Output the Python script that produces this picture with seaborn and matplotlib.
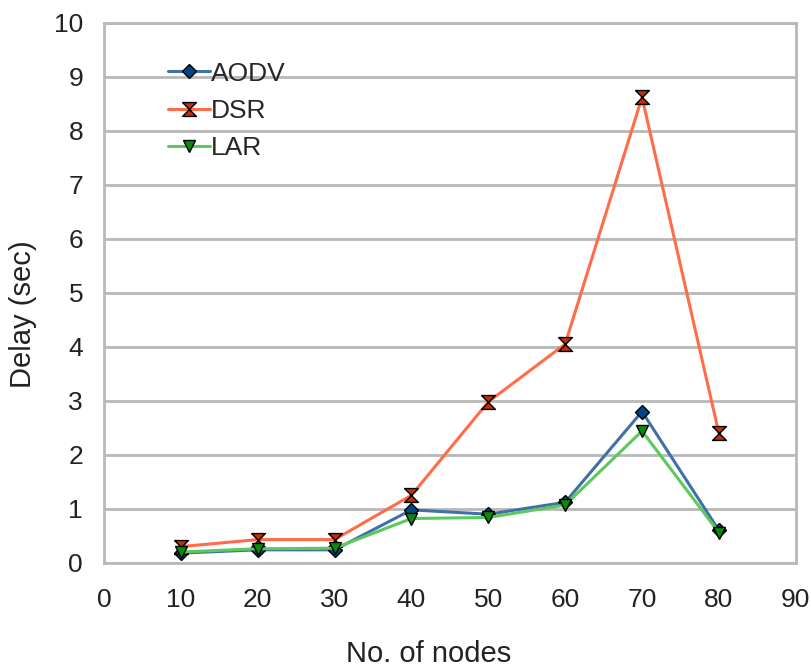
import numpy as np
import pandas as pd
import matplotlib
matplotlib.use("Agg")
import matplotlib.pyplot as plt
import seaborn as sns

# values
nodes = [10, 20, 30, 40, 50, 60, 70, 80]
aodv = [0.18, 0.24, 0.24, 0.98, 0.90, 1.12, 2.80, 0.60]
dsr = [0.30, 0.43, 0.43, 1.25, 2.98, 4.05, 8.62, 2.40]
lar = [0.20, 0.26, 0.27, 0.82, 0.84, 1.07, 2.44, 0.56]

x_ticks = list(range(0, 91, 10))
y_ticks = list(range(0, 11))

sns.set_style("white")
plt.rcParams['font.family'] = ['Liberation Sans', 'DejaVu Sans']

grid_col = '#b8b8b8'
hourglass = [(-1, 1), (1, 1), (-1, -1), (1, -1), (-1, 1)]

series = [
    ('AODV', aodv, '#3f70a8', 'D', '#004586', 7),
    ('DSR', dsr, '#ff6c48', hourglass, '#c0300a', 10),
    ('LAR', lar, '#5cc95c', 'v', '#0a8a0a', 8),
]

fig = plt.figure(figsize=(8.12, 6.70), dpi=100)
ax = fig.add_axes([0.128, 0.160, 0.852, 0.806])

for name, vals, col, mk, mcol, ms in series:
    df = pd.DataFrame({'nodes': nodes, 'delay': vals})
    sns.lineplot(data=df, x='nodes', y='delay', ax=ax, color=col, linewidth=2.2,
                 marker=mk, markersize=ms, markerfacecolor=mcol,
                 markeredgecolor='black', markeredgewidth=1.0, label=name)

ax.set_xlim(0, 90)
ax.set_ylim(0, 10)
ax.set_xticks(x_ticks)
ax.set_yticks(y_ticks)
ax.yaxis.grid(True, color=grid_col, linewidth=2.0)
ax.set_axisbelow(True)
for s in ax.spines.values():
    s.set_color(grid_col)
    s.set_linewidth(2.0)
ax.tick_params(axis='both', labelsize=19, colors=grid_col, labelcolor='#222222',
               width=2.0, direction='out')
ax.tick_params(axis='x', length=13, pad=5)
ax.tick_params(axis='y', length=10, pad=5)
ax.set_xlabel('No. of nodes', fontsize=21, color='#222222', labelpad=20, x=0.47)
ax.set_ylabel('Delay (sec)', fontsize=21, color='#222222', labelpad=12, y=0.46)

leg = ax.legend(loc='upper left', bbox_to_anchor=(0.058, 0.972), frameon=False,
                fontsize=19, handlelength=1.6, handletextpad=0.05, labelspacing=0.5)

fig.savefig('out.png', dpi=100)
